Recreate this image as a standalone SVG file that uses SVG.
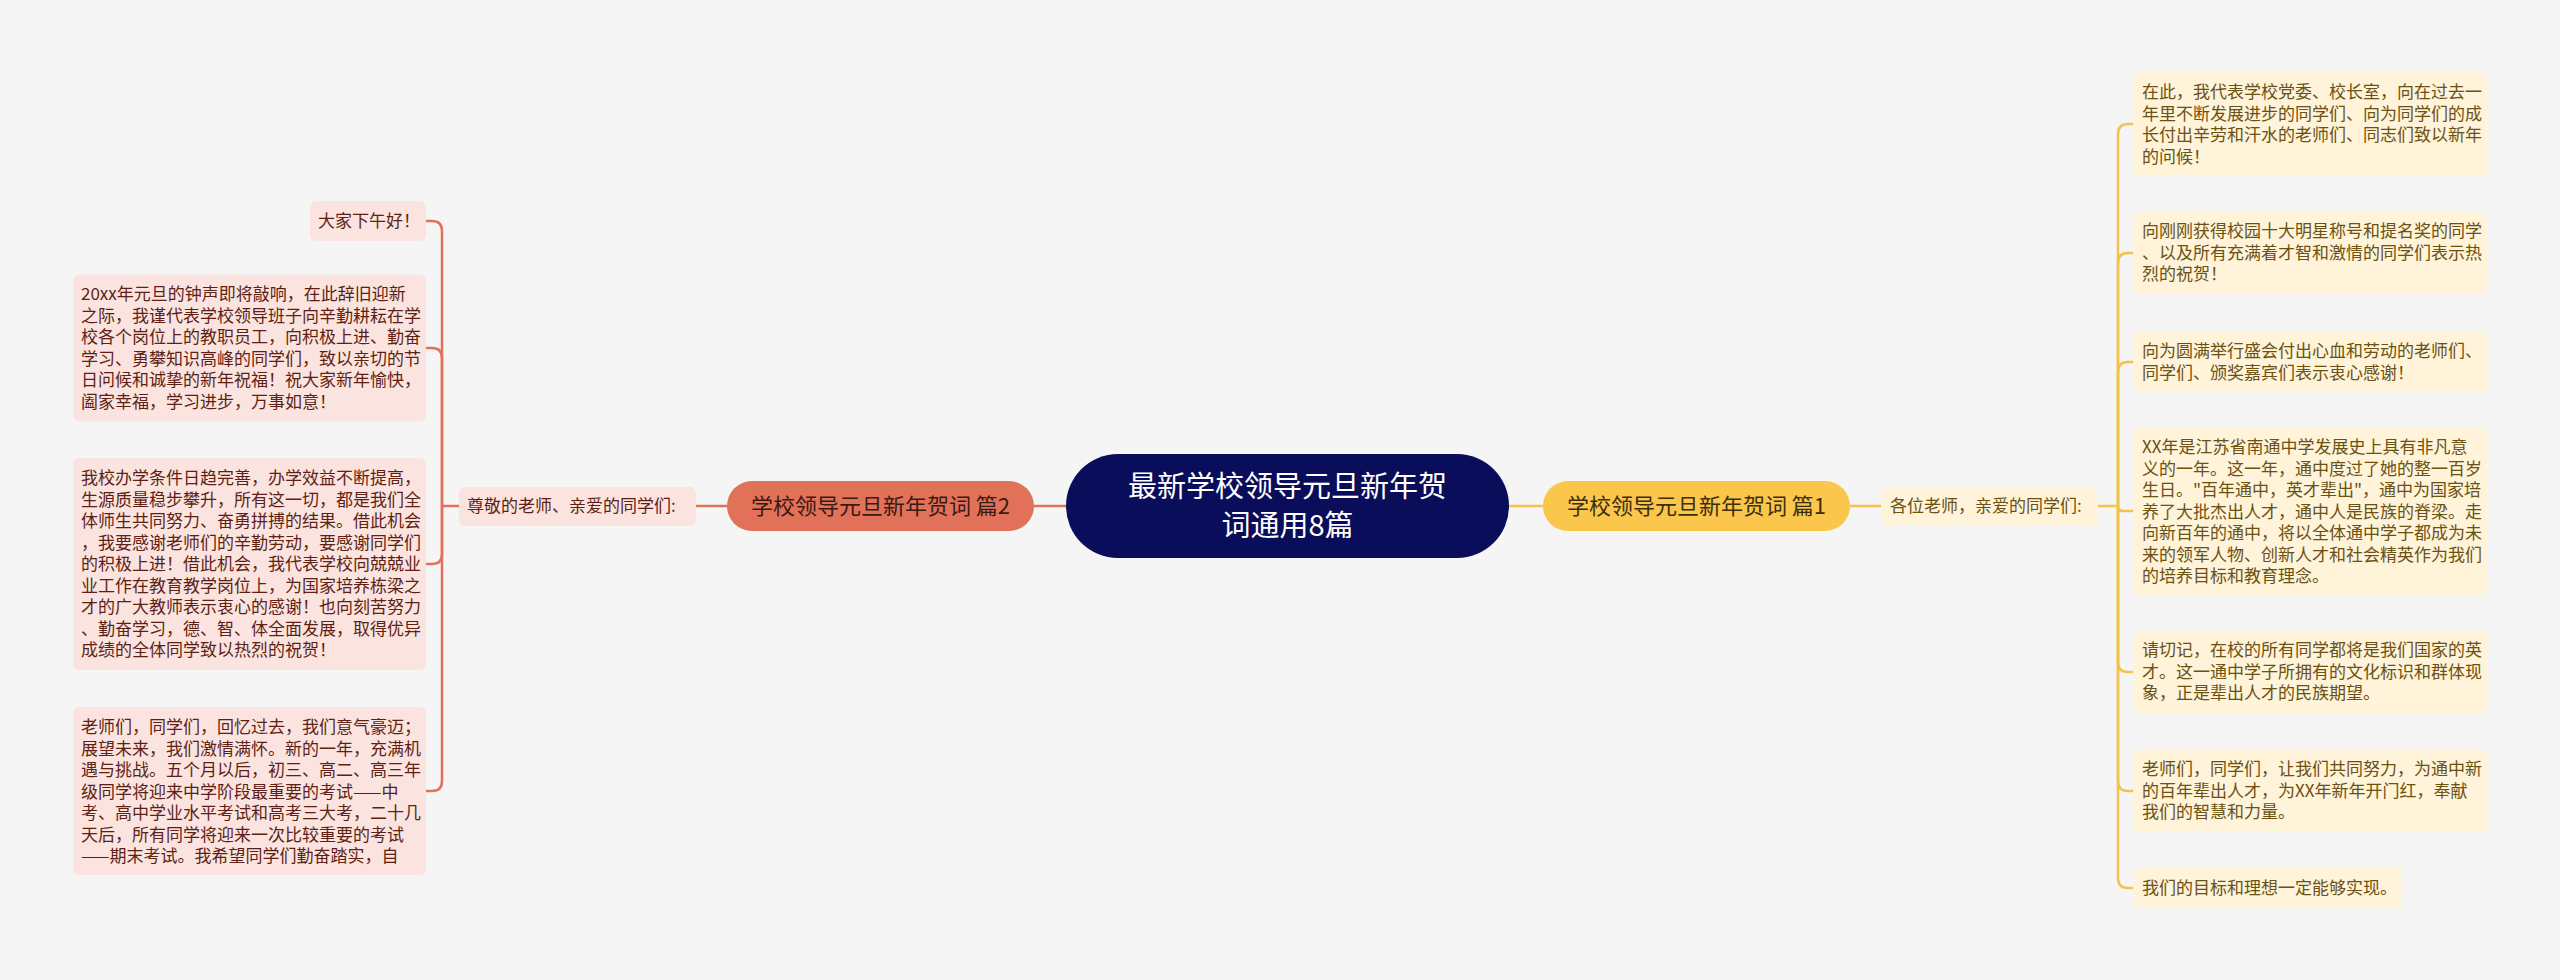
<svg xmlns="http://www.w3.org/2000/svg" width="2560" height="980" viewBox="0 0 2560 980">
<style>
.t{font-family:"Noto Sans CJK SC","Noto Sans",sans-serif;}
.lt{font-size:17px;fill:#5e1f15;}
.rt{font-size:17px;fill:#6b5112;}
.lbox{fill:#fbe4df;}
.rbox{fill:#fff3d9;}
.lline{fill:none;stroke:#e0715b;stroke-width:2.5;}
.rline{fill:none;stroke:#f4c24b;stroke-width:2.5;}
</style>
<rect x="0" y="0" width="2560" height="980" fill="#f5f5f5"/>
<g id="connectors">
<path class="lline" d="M1066 506 H1034" stroke-width="3"/>
<path class="lline" d="M727 506 H696" stroke-width="3"/>
<path class="lline" d="M459 506 H442"/>
<path class="lline" d="M442 506 V231 Q442 221 432 221 H426"/>
<path class="lline" d="M442 506 V358 Q442 348 432 348 H426"/>
<path class="lline" d="M442 506 V554 Q442 564 432 564 H426"/>
<path class="lline" d="M442 506 V781 Q442 791 432 791 H426"/>
<path class="rline" d="M1509 506 H1543" stroke-width="3"/>
<path class="rline" d="M1850 506 H1881" stroke-width="3"/>
<path class="rline" d="M2098 506 H2118"/>
<path class="rline" d="M2118 506 V134 Q2118 124 2128 124 H2133"/>
<path class="rline" d="M2118 506 V263 Q2118 253 2128 253 H2133"/>
<path class="rline" d="M2118 506 V372 Q2118 362 2128 362 H2133"/>
<path class="rline" d="M2118 506 Q2118 511 2123 511 H2133"/>
<path class="rline" d="M2118 506 V662 Q2118 672 2128 672 H2133"/>
<path class="rline" d="M2118 506 V781 Q2118 791 2128 791 H2133"/>
<path class="rline" d="M2118 506 V878 Q2118 888 2128 888 H2133"/>
</g>
<g id="root">
<rect x="1066" y="454" width="443" height="104" rx="52" fill="#0a0e5a"/>
<text class="t" x="1287.5" y="497" font-size="29" fill="#ffffff" text-anchor="middle">最新学校领导元旦新年贺</text>
<text class="t" x="1287.5" y="536" font-size="29" fill="#ffffff" text-anchor="middle">词通用8篇</text>
</g>
<g id="branch-left">
<rect x="727" y="481" width="307" height="50" rx="25" fill="#e2715a"/>
<text class="t" x="880.5" y="514" font-size="22" fill="#3b1a12" text-anchor="middle">学校领导元旦新年贺词 篇2</text>
</g>
<g id="sub-left">
<rect class="lbox" x="459" y="487" width="237" height="39" rx="6"/>
<text class="t lt" x="467" y="512">尊敬的老师、亲爱的同学们:</text>
</g>
<g id="leaf-l1">
<rect class="lbox" x="310" y="201" width="116" height="40" rx="6"/>
<text class="t lt" x="318" y="227">大家下午好！</text>
</g>
<g id="leaf-l2">
<rect class="lbox" x="73" y="274.5" width="353" height="147" rx="6"/>
<text class="t lt"><tspan x="81" y="300">20xx年元旦的钟声即将敲响，在此辞旧迎新</tspan><tspan x="81" y="321.5">之际，我谨代表学校领导班子向辛勤耕耘在学</tspan><tspan x="81" y="343">校各个岗位上的教职员工，向积极上进、勤奋</tspan><tspan x="81" y="364.5">学习、勇攀知识高峰的同学们，致以亲切的节</tspan><tspan x="81" y="386">日问候和诚挚的新年祝福！祝大家新年愉快，</tspan><tspan x="81" y="407.5">阖家幸福，学习进步，万事如意！</tspan></text>
</g>
<g id="leaf-l3">
<rect class="lbox" x="73" y="458" width="353" height="212" rx="6"/>
<text class="t lt"><tspan x="81" y="484">我校办学条件日趋完善，办学效益不断提高，</tspan><tspan x="81" y="505.5">生源质量稳步攀升，所有这一切，都是我们全</tspan><tspan x="81" y="527">体师生共同努力、奋勇拼搏的结果。借此机会</tspan><tspan x="81" y="548.5">，我要感谢老师们的辛勤劳动，要感谢同学们</tspan><tspan x="81" y="570">的积极上进！借此机会，我代表学校向兢兢业</tspan><tspan x="81" y="591.5">业工作在教育教学岗位上，为国家培养栋梁之</tspan><tspan x="81" y="613">才的广大教师表示衷心的感谢！也向刻苦努力</tspan><tspan x="81" y="634.5">、勤奋学习，德、智、体全面发展，取得优异</tspan><tspan x="81" y="656">成绩的全体同学致以热烈的祝贺！</tspan></text>
</g>
<g id="leaf-l4">
<rect class="lbox" x="73" y="707" width="353" height="168" rx="6"/>
<text class="t lt"><tspan x="81" y="733">老师们，同学们，回忆过去，我们意气豪迈；</tspan><tspan x="81" y="754.5">展望未来，我们激情满怀。新的一年，充满机</tspan><tspan x="81" y="776">遇与挑战。五个月以后，初三、高二、高三年</tspan><tspan x="81" y="797.5">级同学将迎来中学阶段最重要的考试——中</tspan><tspan x="81" y="819">考、高中学业水平考试和高考三大考，二十几</tspan><tspan x="81" y="840.5">天后，所有同学将迎来一次比较重要的考试</tspan><tspan x="81" y="862">——期末考试。我希望同学们勤奋踏实，自</tspan></text>
</g>
<g id="branch-right">
<rect x="1543" y="481" width="307" height="50" rx="25" fill="#fbc64c"/>
<text class="t" x="1696.5" y="514" font-size="22" fill="#3d2e0c" text-anchor="middle">学校领导元旦新年贺词 篇1</text>
</g>
<g id="sub-right">
<rect class="rbox" x="1881" y="487" width="217" height="39" rx="6"/>
<text class="t rt" x="1890" y="512">各位老师，亲爱的同学们:</text>
</g>
<g id="leaf-r1">
<rect class="rbox" x="2133" y="72" width="354" height="104" rx="6"/>
<text class="t rt"><tspan x="2142" y="98">在此，我代表学校党委、校长室，向在过去一</tspan><tspan x="2142" y="119.5">年里不断发展进步的同学们、向为同学们的成</tspan><tspan x="2142" y="141">长付出辛劳和汗水的老师们、同志们致以新年</tspan><tspan x="2142" y="162.5">的问候！</tspan></text>
</g>
<g id="leaf-r2">
<rect class="rbox" x="2133" y="212" width="354" height="82" rx="6"/>
<text class="t rt"><tspan x="2142" y="237">向刚刚获得校园十大明星称号和提名奖的同学</tspan><tspan x="2142" y="258.5">、以及所有充满着才智和激情的同学们表示热</tspan><tspan x="2142" y="280">烈的祝贺！</tspan></text>
</g>
<g id="leaf-r3">
<rect class="rbox" x="2133" y="331" width="354" height="61" rx="6"/>
<text class="t rt"><tspan x="2142" y="357">向为圆满举行盛会付出心血和劳动的老师们、</tspan><tspan x="2142" y="378.5">同学们、颁奖嘉宾们表示衷心感谢！</tspan></text>
</g>
<g id="leaf-r4">
<rect class="rbox" x="2133" y="427" width="354" height="168" rx="6"/>
<text class="t rt"><tspan x="2142" y="453">XX年是江苏省南通中学发展史上具有非凡意</tspan><tspan x="2142" y="474.5">义的一年。这一年，通中度过了她的整一百岁</tspan><tspan x="2142" y="496">生日。"百年通中，英才辈出"，通中为国家培</tspan><tspan x="2142" y="517.5">养了大批杰出人才，通中人是民族的脊梁。走</tspan><tspan x="2142" y="539">向新百年的通中，将以全体通中学子都成为未</tspan><tspan x="2142" y="560.5">来的领军人物、创新人才和社会精英作为我们</tspan><tspan x="2142" y="582">的培养目标和教育理念。</tspan></text>
</g>
<g id="leaf-r5">
<rect class="rbox" x="2133" y="631" width="354" height="82" rx="6"/>
<text class="t rt"><tspan x="2142" y="656">请切记，在校的所有同学都将是我们国家的英</tspan><tspan x="2142" y="677.5">才。这一通中学子所拥有的文化标识和群体现</tspan><tspan x="2142" y="699">象，正是辈出人才的民族期望。</tspan></text>
</g>
<g id="leaf-r6">
<rect class="rbox" x="2133" y="750" width="354" height="82" rx="6"/>
<text class="t rt"><tspan x="2142" y="775">老师们，同学们，让我们共同努力，为通中新</tspan><tspan x="2142" y="796.5">的百年辈出人才，为XX年新年开门红，奉献</tspan><tspan x="2142" y="818">我们的智慧和力量。</tspan></text>
</g>
<g id="leaf-r7">
<rect class="rbox" x="2133" y="868" width="269" height="40" rx="6"/>
<text class="t rt" x="2142" y="894">我们的目标和理想一定能够实现。</text>
</g>
</svg>
